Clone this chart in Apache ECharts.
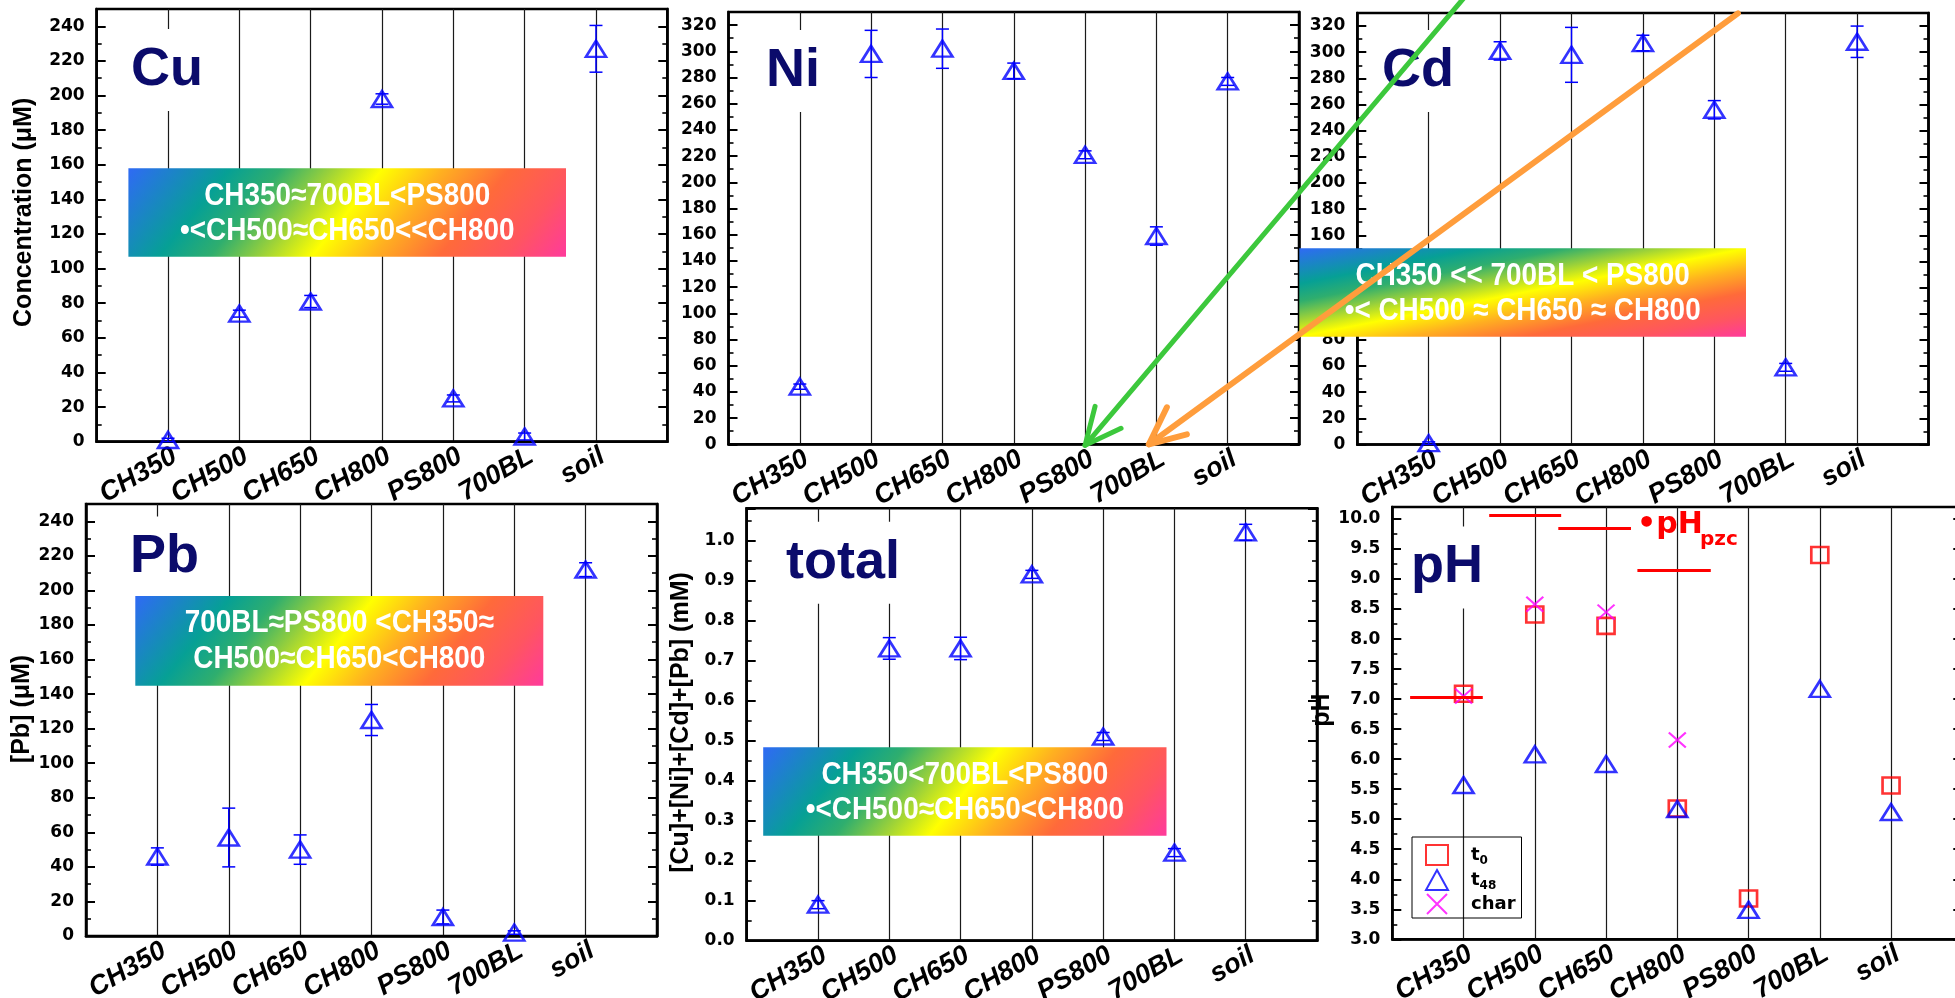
<!DOCTYPE html>
<html>
<head>
<meta charset="utf-8">
<title>Metal release and pH by sorbent</title>
<script src="https://cdn.jsdelivr.net/npm/echarts@6/dist/echarts.min.js"></script>
<style>
  html, body { margin: 0; padding: 0; background: #fff; }
  #chart { width: 1955px; height: 998px; }
</style>
</head>
<body>
<div id="chart"></div>
<script>
// ---------------- data ----------------
const categories = ['CH350', 'CH500', 'CH650', 'CH800', 'PS800', '700BL', 'soil'];

// dissolved metal after 48 h: mean and error (µM; total in mM)
const cuMean = [1, 74, 81, 198, 25, 3, 227];
const cuErr  = [1, 2, 3.5, 3, 2, 2, 13.5];
const niMean = [44, 298, 302, 285, 221, 159, 277];
const niErr  = [2, 18, 15, 6, 3, 7, 3];
const cdMean = [1, 301, 298, 307, 256, 59, 308];
const cdErr  = [1, 7, 21, 6, 7, 3, 12];
const pbMean = [46, 57, 50, 125, 11, 2, 212];
const pbErr  = [5, 17, 8.5, 9, 4, 1, 4];
const totalMean = [0.09, 0.73, 0.73, 0.915, 0.51, 0.22, 1.02];
const totalErr  = [0.01, 0.027, 0.028, 0.01, 0.01, 0.01, 0.02];

// pH at start, after 48 h, and of the char itself
const pHt0   = [7.09, 8.41, 8.22, 5.18, 3.68, 9.40, 5.56];
const pHt48  = [5.57, 6.08, 5.92, 5.17, 3.49, 7.17, 5.12];
const pHchar = [7.05, 8.58, 8.45, 6.32, null, null, null];
// point of zero charge for CH350, CH500, CH650, CH800
const pHpzc  = [7.03, 10.06, 9.84, 9.14];

// y-axis ranges and tick steps per panel
const yRanges = [
  { min: 0, max: 250,  interval: 20,  digits: 0 },
  { min: 0, max: 330,  interval: 20,  digits: 0 },
  { min: 0, max: 330,  interval: 20,  digits: 0 },
  { min: 0, max: 250,  interval: 20,  digits: 0 },
  { min: 0, max: 1.08, interval: 0.1, digits: 1 },
  { min: 3, max: 10.2, interval: 0.5, digits: 1 }
];

const panelTitles = ['Cu', 'Ni', 'Cd', 'Pb', 'total', 'pH'];
const yNames = ['Concentration (\u03bcM)', '', '', '[Pb] (\u03bcM)', '[Cu]+[Ni]+[Cd]+[Pb] (mM)', 'pH'];

const rankCu    = ['CH350\u2248700BL<PS800', '\u2022<CH500\u2248CH650<<CH800'];
const rankCd    = ['CH350 << 700BL < PS800', '\u2022< CH500 \u2248 CH650 \u2248 CH800'];
const rankPb    = ['700BL\u2248PS800 <CH350\u2248', 'CH500\u2248CH650<CH800'];
const rankTotal = ['CH350<700BL<PS800', '\u2022<CH500\u2248CH650<CH800'];

// ---------------- layout & style ----------------
const gridBoxes = [
  [96.7, 9, 570.6, 432.7],     // Cu
  [728.5, 12, 570.5, 432.3],   // Ni
  [1357.3, 13, 571.2, 431.5],  // Cd
  [86, 504, 571, 432],         // Pb
  [746.7, 508.3, 570.3, 432.4],// total
  [1392.3, 507, 570, 432.3]    // pH
];
const nameGaps = [60, 0, 0, 51, 53, 48];
const namePadLeft = [26, 0, 0, 22, 4, 26];
const titleSpots = [[121, 70], [756, 71], [1372, 71], [120, 557.5], [776, 562.7], [1401, 567.5]];
// horizontal extent of each pzc bar around its category (in category units)
const pzcSpans = [[-0.75, 0.27], [-0.64, 0.37], [-0.67, 0.35], [-0.56, 0.47]];

const BLUE = '#0000ff';
const NAVY = '#0b0b6b';
const TICK_FONT = '"DejaVu Sans", Verdana, sans-serif';
const TEXT_FONT = '"Liberation Sans", Arial, sans-serif';

const chart = echarts.init(document.getElementById('chart'), null, { renderer: 'canvas' });

const grids = gridBoxes.map(b => ({
  left: b[0], top: b[1], width: b[2], height: b[3],
  show: true, borderColor: '#000', borderWidth: 2.5,
  backgroundColor: 'transparent', containLabel: false, outerBoundsMode: 'none'
}));

const xAxes = gridBoxes.map((b, i) => ({
  type: 'value', gridIndex: i, min: 0, max: categories.length + 1, interval: 1,
  axisLine: { show: true, onZero: false, lineStyle: { color: '#000', width: 2.5 } },
  axisTick: { show: false },
  splitLine: { show: true, lineStyle: { color: '#1a1a1a', width: 1.2 } },
  axisLabel: {
    show: true, rotate: 30, align: 'right', verticalAlign: 'top', margin: 1,
    fontFamily: TEXT_FONT, fontStyle: 'italic', fontWeight: 'bold', fontSize: 27, color: '#000',
    hideOverlap: false,
    formatter: v => categories[Math.round(v) - 1] || ''
  }
}));

function tickFormatter(r) {
  return v => {
    const k = (v - r.min) / r.interval;
    if (Math.abs(k - Math.round(k)) > 1e-6) return '';
    return v.toFixed(r.digits);
  };
}

const yAxes = [];
yRanges.forEach((r, i) => {
  const common = {
    type: 'value', gridIndex: i, min: r.min, max: r.max, interval: r.interval,
    splitLine: { show: false },
    axisLine: { show: true, onZero: false, lineStyle: { color: '#000', width: 2.5 } },
    axisTick: { show: true, inside: true, length: 9, lineStyle: { color: '#000', width: 2 } },
    minorTick: { show: true, splitNumber: 2, length: 5, lineStyle: { color: '#000', width: 1.6 } }
  };
  yAxes.push(Object.assign({}, common, {
    position: 'left',
    name: yNames[i], nameLocation: 'middle', nameGap: nameGaps[i], nameRotate: 90,
    nameTextStyle: {
      fontFamily: TEXT_FONT, fontWeight: 'bold', fontSize: 25, color: '#000',
      padding: [0, 0, 0, namePadLeft[i]]
    },
    axisLabel: {
      show: true, margin: 12, fontFamily: TICK_FONT, fontWeight: 'bold', fontSize: 17,
      color: '#000', hideOverlap: false, formatter: tickFormatter(r)
    }
  }));
  yAxes.push(Object.assign({}, common, { position: 'right', axisLabel: { show: false } }));
});

// ---------------- series ----------------
const metals = [
  { name: 'Cu', mean: cuMean, err: cuErr },
  { name: 'Ni', mean: niMean, err: niErr },
  { name: 'Cd', mean: cdMean, err: cdErr },
  { name: 'Pb', mean: pbMean, err: pbErr },
  { name: 'total', mean: totalMean, err: totalErr }
];

function errorBarRender(params, api) {
  const x = api.value(0), m = api.value(1), e = api.value(2);
  const hi = api.coord([x, m + e]);
  const lo = api.coord([x, m - e]);
  const hw = 6.5;
  const st = { stroke: BLUE, lineWidth: 1.5 };
  return {
    type: 'group',
    children: [
      { type: 'line', shape: { x1: hi[0], y1: hi[1], x2: lo[0], y2: lo[1] }, style: st },
      { type: 'line', shape: { x1: hi[0] - hw, y1: hi[1], x2: hi[0] + hw, y2: hi[1] }, style: st },
      { type: 'line', shape: { x1: lo[0] - hw, y1: lo[1], x2: lo[0] + hw, y2: lo[1] }, style: st }
    ]
  };
}

const hollow = c => ({ color: 'rgba(0,0,0,0)', borderColor: c, borderWidth: 2.6 });

const series = [];
metals.forEach((mt, i) => {
  series.push({
    type: 'custom', name: mt.name + ' error', xAxisIndex: i, yAxisIndex: i * 2,
    silent: true, z: 3,
    data: mt.mean.map((m, k) => [k + 1, m, mt.err[k]]),
    renderItem: errorBarRender
  });
  series.push({
    type: 'scatter', name: mt.name, xAxisIndex: i, yAxisIndex: i * 2, silent: true, z: 4,
    symbol: 'triangle', symbolSize: [20, 16], itemStyle: hollow(BLUE),
    data: mt.mean.map((m, k) => [k + 1, m])
  });
});

const toPoints = arr => arr.map((v, k) => (v == null ? null : [k + 1, v])).filter(p => p);

series.push({
  type: 'scatter', name: 't0', xAxisIndex: 5, yAxisIndex: 10, silent: true, z: 4,
  symbol: 'rect', symbolSize: [17, 16], itemStyle: hollow('#ff0000'),
  data: toPoints(pHt0),
  markLine: {
    silent: true, symbol: 'none', animation: false,
    label: { show: false },
    lineStyle: { color: '#ff0000', width: 3, type: 'solid' },
    emphasis: { disabled: true },
    data: pHpzc.map((v, k) => [
      { coord: [k + 1 + pzcSpans[k][0], v] },
      { coord: [k + 1 + pzcSpans[k][1], v] }
    ])
  }
});
series.push({
  type: 'scatter', name: 't48', xAxisIndex: 5, yAxisIndex: 10, silent: true, z: 4,
  symbol: 'triangle', symbolSize: [20, 16], itemStyle: hollow(BLUE),
  data: toPoints(pHt48)
});
series.push({
  type: 'scatter', name: 'char', xAxisIndex: 5, yAxisIndex: 10, silent: true, z: 4,
  symbol: 'path://M0,0L10,10M10,0L0,10', symbolSize: [17, 15],
  itemStyle: { color: 'rgba(0,0,0,0)', borderColor: '#ff00ff', borderWidth: 2 },
  data: toPoints(pHchar)
});

// ---------------- annotations ----------------
const gradStops = [
  { offset: 0,    color: '#2f6af5' },
  { offset: 0.2,  color: '#06a095' },
  { offset: 0.3,  color: '#2fae6e' },
  { offset: 0.4,  color: '#9ad13a' },
  { offset: 0.5,  color: '#ffff00' },
  { offset: 0.62, color: '#ffb020' },
  { offset: 0.75, color: '#ff6a3a' },
  { offset: 0.88, color: '#ff5560' },
  { offset: 1,    color: '#ff3a9c' }
];
// linear gradient running along the pixel direction (dx, dy) across a w × h box
function boxGradient(w, h, dx, dy) {
  const len = Math.hypot(dx, dy);
  const ux = dx / len, uy = dy / len;
  const proj = w * ux + h * uy;
  return new echarts.graphic.LinearGradient(0, 0, ux * proj / w, uy * proj / h, gradStops);
}

function rankBox(id, lines, box, dir) {
  const [x, y, w, h] = box;
  const txt = (t, cy, k) => ({
    type: 'text', id: id + '-t' + k, x: w / 2, y: cy, scaleX: 0.9, z: 52,
    style: {
      text: t, fill: '#fff', fontFamily: TEXT_FONT, fontWeight: 'bold', fontSize: 31,
      align: 'center', verticalAlign: 'middle'
    }
  });
  return {
    type: 'group', id: id, x: x, y: y, z: 50,
    children: [
      { type: 'rect', id: id + '-bg', z: 50, shape: { x: 0, y: 0, width: w, height: h },
        style: { fill: boxGradient(w, h, dir[0], dir[1]) } },
      txt(lines[0], 27.8, 0),
      txt(lines[1], 63, 1)
    ]
  };
}

const graphics = [];
panelTitles.forEach((t, i) => {
  graphics.push({
    type: 'text', id: 'title-' + t, x: titleSpots[i][0], y: titleSpots[i][1], z: 50,
    style: {
      text: t, fill: NAVY, fontFamily: TEXT_FONT, fontWeight: 'bold', fontSize: 54,
      align: 'left', verticalAlign: 'middle', backgroundColor: '#fff', padding: [14, 10]
    }
  });
});
graphics.push(rankBox('rank-cu', rankCu, [128.4, 168.3, 437.6, 88.4], [89, 72]));
graphics.push(rankBox('rank-cd', rankCd, [1299.3, 248.3, 446.7, 88.4], [88.4, 446.7]));
graphics.push(rankBox('rank-pb', rankPb, [135.3, 596, 408, 89.7], [89, 72]));
graphics.push(rankBox('rank-total', rankTotal, [763.2, 747.3, 403.3, 88.4], [89, 72]));

// pH of zero charge label
graphics.push({
  type: 'text', id: 'pzc-main', x: 1637, y: 525.5, z: 55,
  style: { text: '\u2022pH', fill: '#ff0000', fontFamily: TICK_FONT, fontWeight: 'bold',
           fontSize: 30, align: 'left', verticalAlign: 'middle' }
});
graphics.push({
  type: 'text', id: 'pzc-sub', x: 1700, y: 540, z: 55,
  style: { text: 'pzc', fill: '#ff0000', fontFamily: TICK_FONT, fontWeight: 'bold',
           fontSize: 20, align: 'left', verticalAlign: 'middle' }
});

const option = {
  animation: false,
  backgroundColor: '#fff',
  grid: grids,
  xAxis: xAxes,
  yAxis: yAxes,
  legend: {
    show: true, orient: 'vertical', left: 1412, top: 837,
    padding: [6, 6, 3, 13], itemGap: 1, itemWidth: 22, itemHeight: 20,
    borderColor: '#000', borderWidth: 1, borderRadius: 0, backgroundColor: 'transparent',
    selectedMode: false,
    data: ['t0', 't48', 'char'],
    formatter: n => (n === 'char' ? '{t|char}' : '{t|t}{s|' + n.slice(1) + '}'),
    textStyle: {
      color: '#000', fontFamily: TICK_FONT, fontWeight: 'bold', fontSize: 18,
      padding: [0, 0, 0, 18],
      rich: {
        t: { fontFamily: TICK_FONT, fontWeight: 'bold', fontSize: 18, lineHeight: 24, color: '#000' },
        s: { fontFamily: TICK_FONT, fontWeight: 'bold', fontSize: 12, lineHeight: 12,
             padding: [12, 0, 0, 0], color: '#000' }
      }
    }
  },
  series: series,
  graphic: { elements: graphics }
};

chart.setOption(option);

// arrows pointing at the PS800 and 700BL positions on the Ni axis
const tipG = chart.convertToPixel({ xAxisIndex: 1, yAxisIndex: 2 }, [5, 0]);
const tipO = chart.convertToPixel({ xAxisIndex: 1, yAxisIndex: 2 }, [6, 0]);
tipO[0] -= 7.5;
tipG[1] += 1;

function arrow(id, tip, tail, b1, b2, color, width) {
  const st = { stroke: color, lineWidth: width, lineCap: 'round', lineJoin: 'round', fill: 'none' };
  return [
    { type: 'polyline', id: id + '-shaft', z: 60, shape: { points: [tail, tip] }, style: st },
    { type: 'polyline', id: id + '-head', z: 60,
      shape: { points: [[tip[0] + b1[0], tip[1] + b1[1]], tip, [tip[0] + b2[0], tip[1] + b2[1]]] },
      style: st }
  ];
}

chart.setOption({
  graphic: {
    elements: [].concat(
      arrow('arrow-green', tipG, [tipG[0] + 387, tipG[1] - 457], [10, -39], [36, -17], '#3cc83c', 5),
      arrow('arrow-orange', tipO, [tipO[0] + 589, tipO[1] - 431], [18, -37], [38, -10], '#ff9d3c', 6)
    )
  }
});
</script>
</body>
</html>
